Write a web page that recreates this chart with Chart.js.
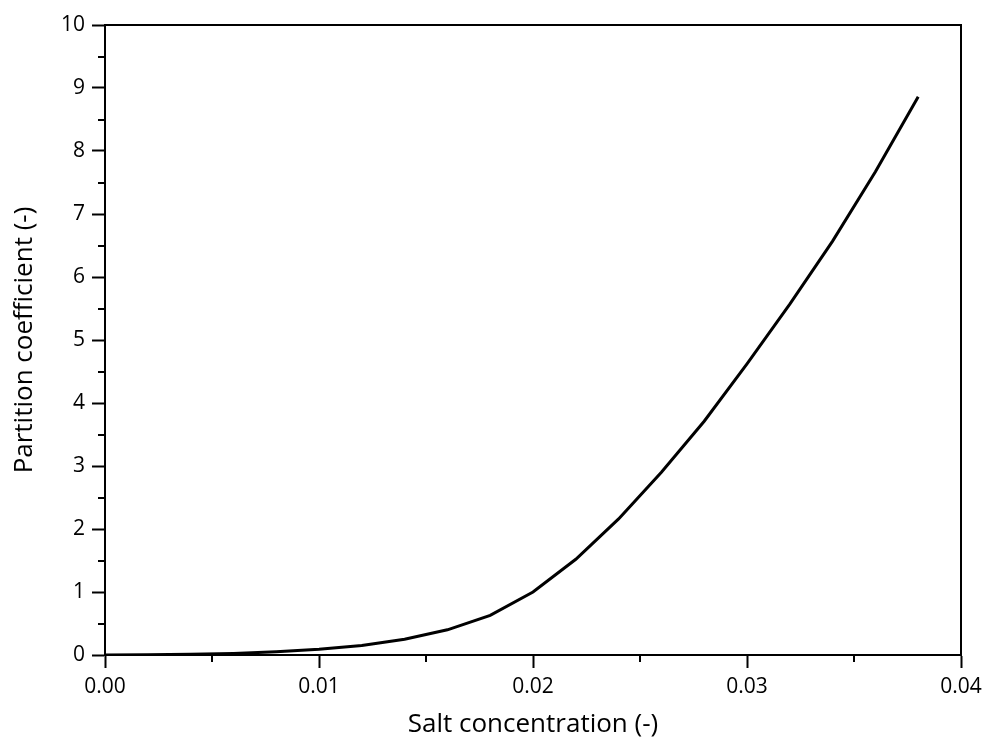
<!DOCTYPE html>
<html>
<head>
<meta charset="utf-8">
<script src="https://cdn.jsdelivr.net/npm/chart.js@4/dist/chart.umd.min.js"></script>
<style>
  html, body { margin: 0; padding: 0; background: #fff; }
  #wrap { width: 982px; height: 740px; }
</style>
</head>
<body>
<div id="wrap"><canvas id="c" width="982" height="740"></canvas></div>
<script>
const saltConcentration = [0.000, 0.002, 0.004, 0.006, 0.008, 0.010, 0.012, 0.014, 0.016, 0.018, 0.020, 0.022, 0.024, 0.026, 0.028, 0.030, 0.032, 0.034, 0.036, 0.038];
const partitionCoefficient = [0.0, 0.005, 0.012, 0.025, 0.05, 0.09, 0.15, 0.25, 0.40, 0.63, 1.0, 1.52, 2.16, 2.90, 3.71, 4.62, 5.57, 6.57, 7.67, 8.86];
const xMajorTicks = [0.00, 0.01, 0.02, 0.03, 0.04];
const xMinorTicks = [0.005, 0.015, 0.025, 0.035];
const yMajorTicks = [0, 1, 2, 3, 4, 5, 6, 7, 8, 9, 10];
const yMinorTicks = [0.5, 1.5, 2.5, 3.5, 4.5, 5.5, 6.5, 7.5, 8.5, 9.5];
const xTitle = 'Salt concentration (-)';
const yTitle = 'Partition coefficient (-)';

const FONT = "'Open Sans', 'Liberation Sans', sans-serif";

const framePlugin = {
  id: 'frame',
  afterDraw(chart) {
    const { ctx, chartArea: a, scales } = chart;
    ctx.save();
    ctx.strokeStyle = '#000';
    ctx.lineWidth = 2;
    ctx.strokeRect(a.left, a.top, a.right - a.left, a.bottom - a.top);
    ctx.beginPath();
    xMinorTicks.forEach(v => {
      const px = Math.round(scales.x.getPixelForValue(v));
      ctx.moveTo(px, a.bottom);
      ctx.lineTo(px, a.bottom + 7);
    });
    yMinorTicks.forEach(v => {
      const py = Math.round(scales.y.getPixelForValue(v));
      ctx.moveTo(a.left, py);
      ctx.lineTo(a.left - 7, py);
    });
    ctx.stroke();
    ctx.restore();
  }
};

new Chart(document.getElementById('c'), {
  type: 'line',
  data: {
    datasets: [{
      data: saltConcentration.map((x, i) => ({ x: x, y: partitionCoefficient[i] })),
      borderColor: '#000',
      borderWidth: 3,
      pointRadius: 0,
      tension: 0,
      fill: false
    }]
  },
  options: {
    responsive: false,
    animation: false,
    layout: { padding: { top: 25, right: 21, left: 0, bottom: 0 } },
    plugins: { legend: { display: false }, tooltip: { enabled: false } },
    scales: {
      x: {
        type: 'linear',
        min: 0, max: 0.04,
        afterBuildTicks(scale) { scale.ticks = xMajorTicks.map(v => ({ value: v })); },
        afterFit(scale) { scale.height = 85; scale.paddingLeft = 0; scale.paddingRight = 0; },
        ticks: {
          color: '#000',
          font: { family: FONT, size: 21 },
          padding: 6,
          maxRotation: 0,
          callback: v => Number(v).toFixed(2)
        },
        grid: { drawOnChartArea: false, drawTicks: true, tickLength: 13, tickColor: '#000', tickWidth: 2 },
        border: { display: true, color: '#000', width: 2 },
        title: { display: true, text: xTitle, color: '#000', font: { family: FONT, size: 26 }, padding: { top: 0, bottom: 0 } }
      },
      y: {
        type: 'linear',
        min: 0, max: 10,
        afterBuildTicks(scale) { scale.ticks = yMajorTicks.map(v => ({ value: v })); },
        afterFit(scale) { scale.width = 105; scale.paddingTop = 0; scale.paddingBottom = 0; },
        ticks: {
          color: '#000',
          font: { family: FONT, size: 21 },
          padding: 7
        },
        grid: { drawOnChartArea: false, drawTicks: true, tickLength: 13, tickColor: '#000', tickWidth: 2 },
        border: { display: true, color: '#000', width: 2 },
        title: { display: true, text: yTitle, color: '#000', font: { family: FONT, size: 26 }, padding: { top: 9, bottom: 0 } }
      }
    }
  },
  plugins: [framePlugin]
});
</script>
</body>
</html>
